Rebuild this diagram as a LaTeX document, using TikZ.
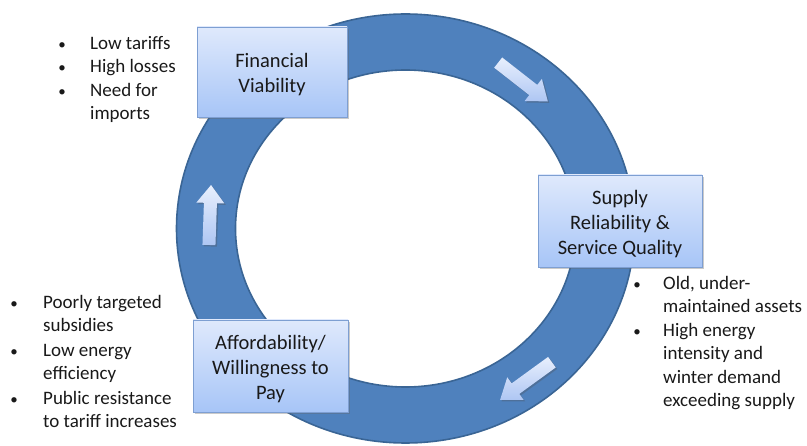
\documentclass[tikz,border=0pt]{standalone}
\usepackage{fontspec}
\setmainfont{Carlito}
\usetikzlibrary{shadows}
\definecolor{ringblue}{HTML}{4F81BD}
\definecolor{ringedge}{HTML}{3A6595}
\definecolor{boxtop}{HTML}{DFE9FC}
\definecolor{boxbot}{HTML}{A7C5F7}
\definecolor{boxedge}{HTML}{7E9FD2}
\definecolor{arrlight}{HTML}{E8EFFD}
\definecolor{arrdark}{HTML}{AEC6F3}
\tikzset{
  stagebox/.style={rectangle, draw=boxedge, line width=0.8pt, top color=boxtop, bottom color=boxbot,
    align=center, inner sep=0pt, font=\fontsize{20.5}{25}\selectfont, text=black!90,
    drop shadow={opacity=0.35, shadow xshift=2pt, shadow yshift=-2pt, fill=black!60}},
  bulletmark/.style={anchor=north, inner sep=0pt, font=\fontsize{19}{23.5}\selectfont, text=black!90},
  listtext/.style={anchor=north west, inner sep=0pt, align=left, font=\fontsize{19}{23.5}\selectfont, text=black!90},
  flowarrow/.style={top color=arrlight, bottom color=arrdark,
    drop shadow={opacity=0.3, shadow xshift=1.5pt, shadow yshift=-1.5pt, fill=black!70}},
}
\newcommand\liststrut{\rule[-7.05pt]{0pt}{23.5pt}}
\newcommand\boxstrut{\rule{0pt}{19.5pt}}
\newcommand\smallbullet{{\fontsize{15}{23.5}\selectfont •}}
\begin{document}
\begin{tikzpicture}[x=1pt,y=-1pt]
\useasboundingbox (0,0) rectangle (807,446);
% ring
\fill[ringblue, even odd rule] (405.5,228.5) ellipse [x radius=229, y radius=214.5]
  (405.5,228.5) ellipse [x radius=170, y radius=158.5];
\draw[ringedge, line width=1.6pt] (405.5,228.5) ellipse [x radius=229, y radius=214.5];
\draw[ringedge, line width=1.6pt] (405.5,228.5) ellipse [x radius=170, y radius=158.5];
% flow arrows
\begin{scope}[shift={(523,82)}, rotate=-38]
  \path[flowarrow] (-31.5,-6.5) -- (13,-6.5) -- (13,-14) -- (31.5,0) -- (13,14) -- (13,6.5) -- (-31.5,6.5) -- cycle;
\end{scope}
\begin{scope}[shift={(210,215)}, rotate=88]
  \path[flowarrow] (-30,-6.5) -- (12,-6.5) -- (12,-14) -- (30,0) -- (12,14) -- (12,6.5) -- (-30,6.5) -- cycle;
\end{scope}
\begin{scope}[shift={(526,381)}, rotate=-144]
  \path[flowarrow] (-32,-6.5) -- (13,-6.5) -- (13,-14) -- (32,0) -- (13,14) -- (13,6.5) -- (-32,6.5) -- cycle;
\end{scope}
% stage boxes
\node[stagebox, minimum width=150pt, minimum height=90pt] (fin) at (272,72) {\boxstrut Financial\\Viability};
\node[stagebox, minimum width=164pt, minimum height=92pt] (sup) at (620,221) {\boxstrut Supply\\Reliability \&\\Service Quality};
\node[stagebox, minimum width=155pt, minimum height=92pt] (aff) at (270.5,366) {\boxstrut Affordability/\\Willingness to\\Pay};
% top-left list (baselines 49, 72.5, 96)
\node[bulletmark] (b1) at (62,32.55) {\liststrut\smallbullet};
\node[listtext] (t1) at (90,32.55) {\liststrut Low tariffs};
\node[bulletmark] (b2) at (62,56.05) {\liststrut\smallbullet};
\node[listtext] (t2) at (90,56.05) {\liststrut High losses};
\node[bulletmark] (b3) at (62,79.55) {\liststrut\smallbullet};
\node[listtext] (t3) at (90,79.55) {\liststrut Need for\\imports};
% bottom-left list (baselines 308, 356, 404)
\node[bulletmark] (b4) at (14,291.55) {\liststrut\smallbullet};
\node[listtext] (t4) at (43,291.55) {\liststrut Poorly targeted\\subsidies};
\node[bulletmark] (b5) at (14,339.55) {\liststrut\smallbullet};
\node[listtext] (t5) at (43,339.55) {\liststrut Low energy\\efficiency};
\node[bulletmark] (b6) at (14,387.55) {\liststrut\smallbullet};
\node[listtext] (t6) at (43,387.55) {\liststrut Public resistance\\to tariff increases};
% right list (baselines 289, 336)
\node[bulletmark] (b7) at (637,272.55) {\liststrut\smallbullet};
\node[listtext] (t7) at (663,272.55) {\liststrut Old, under-\\maintained assets};
\node[bulletmark] (b8) at (637,319.55) {\liststrut\smallbullet};
\node[listtext] (t8) at (663,319.55) {\liststrut High energy\\intensity and\\winter demand\\exceeding supply};
\end{tikzpicture}
\end{document}
